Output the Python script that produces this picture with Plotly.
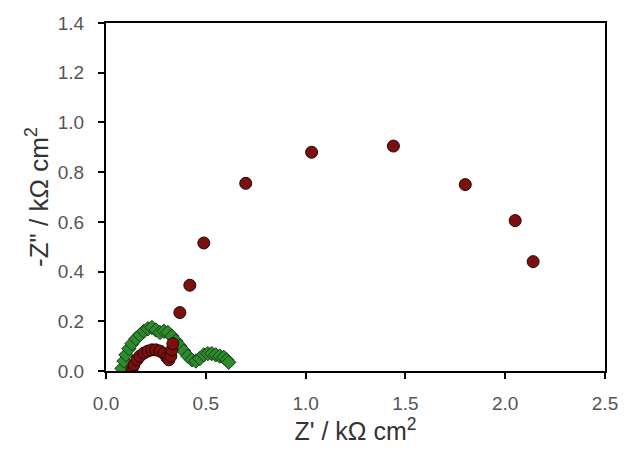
import plotly.graph_objects as go

# Series A (dark red circles)
red_x = [0.13, 0.14, 0.155, 0.17, 0.19, 0.21, 0.23, 0.25, 0.27, 0.29, 0.305, 0.315,
         0.325, 0.33, 0.335, 0.37, 0.42, 0.49, 0.70, 1.03, 1.44, 1.80, 2.05, 2.14]
red_y = [0.005, 0.025, 0.045, 0.06, 0.072, 0.08, 0.085, 0.085, 0.08, 0.07, 0.055, 0.045,
         0.06, 0.085, 0.11, 0.235, 0.345, 0.515, 0.755, 0.88, 0.905, 0.75, 0.605, 0.44]

# Series B (green diamonds)
green_x = [0.08, 0.09, 0.10, 0.115, 0.13, 0.15, 0.17, 0.19, 0.21, 0.23, 0.25, 0.27,
           0.29, 0.31, 0.33, 0.35, 0.37, 0.39, 0.41, 0.43, 0.45, 0.47, 0.49, 0.51,
           0.53, 0.55, 0.57, 0.59, 0.605, 0.615]
green_y = [0.01, 0.04, 0.065, 0.09, 0.11, 0.13, 0.145, 0.16, 0.17, 0.175, 0.165, 0.155,
           0.16, 0.155, 0.14, 0.12, 0.10, 0.08, 0.06, 0.045, 0.04, 0.05, 0.065, 0.07,
           0.07, 0.065, 0.06, 0.055, 0.045, 0.035]

x_ticks = [0.0, 0.5, 1.0, 1.5, 2.0, 2.5]
y_ticks = [0.0, 0.2, 0.4, 0.6, 0.8, 1.0, 1.2, 1.4]

fig = go.Figure()
fig.add_trace(go.Scatter(
    x=green_x, y=green_y, mode="markers",
    marker=dict(symbol="diamond", size=11, color="#2f8a2f",
                line=dict(color="#0f400f", width=1)),
    showlegend=False))
fig.add_trace(go.Scatter(
    x=red_x, y=red_y, mode="markers",
    marker=dict(symbol="circle", size=12, color="#7a1010",
                line=dict(color="#2a0505", width=1)),
    showlegend=False))

FONT = "Liberation Sans, Arial, sans-serif"
tick_font = dict(family=FONT, size=19, color="#555555")
xtitle_font = dict(family=FONT, size=25, color="#333333")
ytitle_font = dict(family=FONT, size=26, color="#333333")

axis_common = dict(
    showline=True, linecolor="black", linewidth=2, mirror=True,
    ticks="outside", ticklen=6, tickwidth=2, tickcolor="black",
    showgrid=False, zeroline=False, automargin=False,
    tickfont=tick_font,
)

fig.update_layout(
    width=624, height=458,
    margin=dict(l=106, r=19, t=23, b=87),
    paper_bgcolor="white", plot_bgcolor="white",
    font=dict(family=FONT, size=19),
    xaxis=dict(range=[0, 2.5], tickvals=x_ticks, ticktext=[f"{v:.1f}" for v in x_ticks],
               ticklabelstandoff=8,
               title=dict(text="Z' / kΩ cm<sup>2</sup>", standoff=10, font=xtitle_font),
               **axis_common),
    yaxis=dict(range=[0, 1.4], tickvals=y_ticks, ticktext=[f"{v:.1f}" for v in y_ticks],
               ticklabelstandoff=10,
               title=dict(text="-Z\" / kΩ cm<sup>2</sup>", standoff=2, font=ytitle_font),
               **axis_common),
)

fig.write_html("out.html", config={"displayModeBar": False},
               post_script="document.body.style.margin='0';")
